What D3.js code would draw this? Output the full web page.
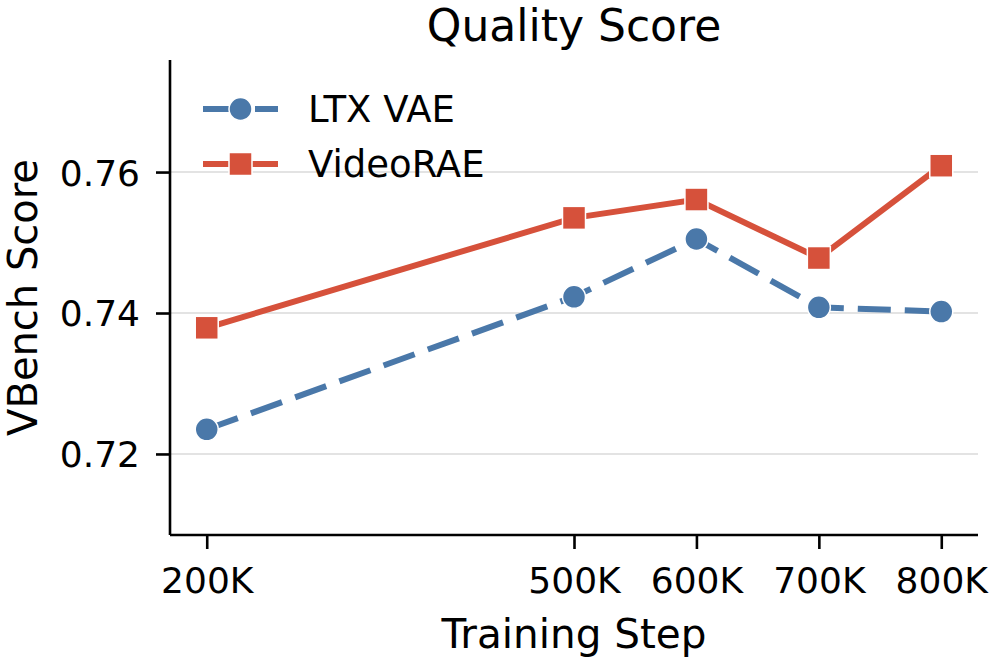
<!DOCTYPE html>
<html>
<head>
<meta charset="utf-8">
<script src="https://cdn.jsdelivr.net/npm/d3@7"></script>
<style>
  body { margin: 0; background: #fff; }
  svg { font-family: "DejaVu Sans", sans-serif; }
</style>
</head>
<body>
<svg id="drawing_region"></svg>
<script>
const steps = [200000, 500000, 600000, 700000, 800000];
const tickLabels = ["200K", "500K", "600K", "700K", "800K"];
const ltxVae = [0.7235, 0.7423, 0.7505, 0.7408, 0.7402];
const videoRae = [0.7379, 0.7535, 0.7561, 0.7478, 0.7609];
const yTicks = [0.72, 0.74, 0.76];

const series = [
    {name: "LTX VAE", values: ltxVae, color: "#4a78a9", dash: "33,14", marker: "circle"},
    {name: "VideoRAE", values: videoRae, color: "#d6513b", dash: null, marker: "square"}
];

const config = {
    width: 990,
    height: 658,
    margin: {top: 60, right: 12, bottom: 123, left: 170}
};

const svg = d3.select("#drawing_region")
    .attr("width", config.width)
    .attr("height", config.height);

const inner_width = config.width - config.margin.left - config.margin.right;
const inner_height = config.height - config.margin.top - config.margin.bottom;

const chart = svg.append("g")
    .attr("transform", `translate(${config.margin.left},${config.margin.top})`);

const xscale = d3.scaleLinear().domain([170000, 830000]).range([0, inner_width]);
const yscale = d3.scaleLinear().domain([0.7085, 0.7759]).range([inner_height, 0]);

// grid
chart.append("g").selectAll("line")
    .data(yTicks)
    .join("line")
    .attr("x1", 0).attr("x2", inner_width)
    .attr("y1", d => yscale(d)).attr("y2", d => yscale(d))
    .attr("stroke", "#e3e3e3")
    .attr("stroke-width", 2);

// axes
const xaxis = d3.axisBottom(xscale)
    .tickValues(steps)
    .tickFormat((d, i) => tickLabels[i])
    .tickSize(14).tickPadding(10);
const yaxis = d3.axisLeft(yscale)
    .tickValues(yTicks)
    .tickFormat(d3.format(".2f"))
    .tickSize(14).tickPadding(16);

const xg = chart.append("g")
    .attr("transform", `translate(0,${inner_height})`)
    .call(xaxis);
const yg = chart.append("g").call(yaxis);

[xg, yg].forEach(g => {
    g.select(".domain").attr("stroke", "#000").attr("stroke-width", 2.6)
        .attr("d", g === xg ? `M0,0H${inner_width}` : `M0,0V${inner_height}`);
    g.selectAll(".tick line").attr("stroke", "#000").attr("stroke-width", 2.6);
    g.selectAll(".tick text").attr("font-size", 36).attr("fill", "#000")
        .attr("font-family", "DejaVu Sans");
});
xg.selectAll(".tick text").attr("dy", "0.95em");
yg.selectAll(".tick text").attr("dy", "0.36em");

// lines
const line = d3.line()
    .x((d, i) => xscale(steps[i]))
    .y(d => yscale(d));

const drawMarker = (g, s, x, y) => {
    if (s.marker === "circle") {
        g.append("circle").attr("cx", x).attr("cy", y).attr("r", 11.5)
            .attr("fill", s.color).attr("stroke", "#fff").attr("stroke-width", 1.5);
    } else {
        g.append("rect").attr("x", x - 11.5).attr("y", y - 11.5)
            .attr("width", 23).attr("height", 23)
            .attr("fill", s.color).attr("stroke", "#fff").attr("stroke-width", 1.5);
    }
};

series.forEach(s => {
    chart.append("path")
        .datum(s.values)
        .attr("d", line)
        .attr("fill", "none")
        .attr("stroke", s.color)
        .attr("stroke-width", 6)
        .attr("stroke-dasharray", s.dash);
    const mg = chart.append("g");
    s.values.forEach((v, i) => drawMarker(mg, s, xscale(steps[i]), yscale(v)));
});

// legend
const legend = svg.append("g");
series.forEach((s, i) => {
    const y = 109 + i * 55;
    const lg = legend.append("g");
    lg.append("line")
        .attr("x1", 203).attr("x2", 278).attr("y1", y).attr("y2", y)
        .attr("stroke", s.color).attr("stroke-width", 6)
        .attr("stroke-dasharray", s.dash ? "27,25" : null);
    drawMarker(lg, s, 240.5, y);
    lg.append("text").attr("x", 308).attr("y", y).attr("dy", "0.36em")
        .attr("font-size", 37).text(s.name);
});

// title and axis labels
svg.append("text")
    .attr("x", config.margin.left + inner_width / 2).attr("y", 41)
    .attr("text-anchor", "middle").attr("font-size", 44)
    .text("Quality Score");

svg.append("text")
    .attr("x", config.margin.left + inner_width / 2).attr("y", 648)
    .attr("text-anchor", "middle").attr("font-size", 40.5)
    .text("Training Step");

svg.append("text")
    .attr("transform", `translate(37,${config.margin.top + inner_height / 2}) rotate(-90)`)
    .attr("text-anchor", "middle").attr("font-size", 40)
    .text("VBench Score");
</script>
</body>
</html>
